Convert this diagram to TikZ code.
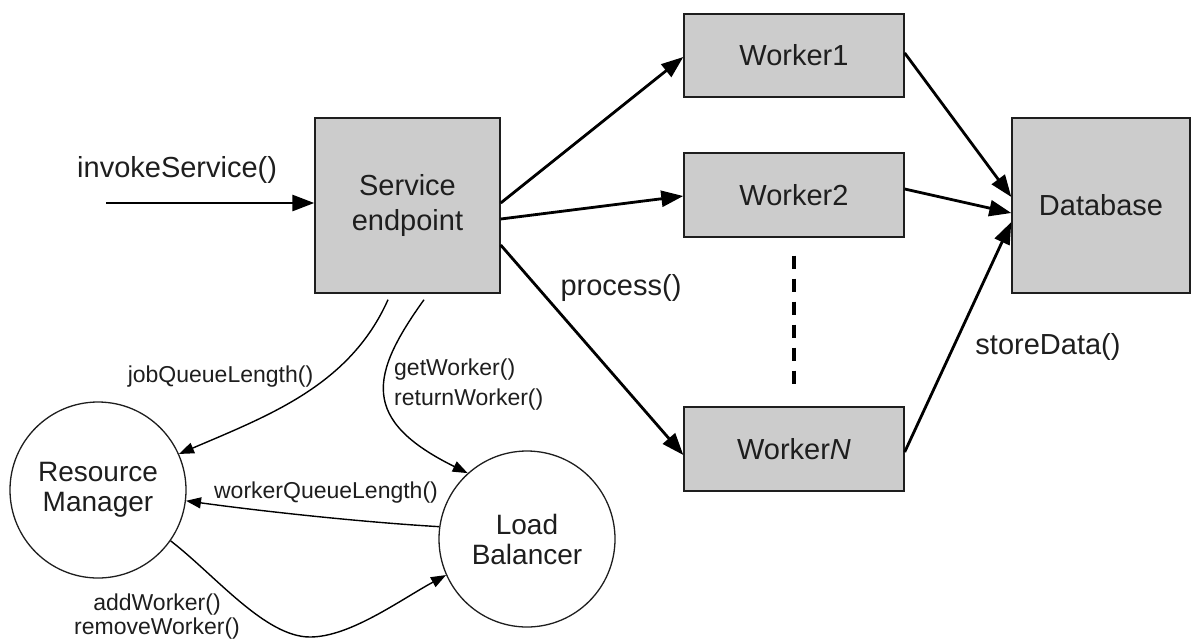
\documentclass[tikz,border=0pt]{standalone}
\usepackage{fontspec}
\setmainfont{Liberation Sans}
\usetikzlibrary{arrows.meta,calc}
\definecolor{boxfill}{HTML}{CCCCCC}
\definecolor{ink}{HTML}{1E1E1E}
\begin{document}
\begin{tikzpicture}[x=1pt,y=-1pt,
  box/.style={draw=ink, fill=boxfill, line width=1.4pt, inner sep=0pt,
    font=\fontsize{29}{35}\selectfont, align=center, text=ink},
  round/.style={draw=ink, circle, line width=1.3pt, minimum size=176pt, inner sep=0pt,
    font=\fontsize{28}{30}\selectfont, align=center, text=ink},
  biglabel/.style={inner sep=0pt, text=ink, font=\fontsize{29}{34}\selectfont},
  smalllabel/.style={inner sep=0pt, text=ink, font=\fontsize{23}{30}\selectfont},
  heavyarrow/.style={draw=black, line width=2.8pt, -{Triangle[length=22pt,width=16pt]}},
  lightarrow/.style={draw=black, line width=1.4pt, -{Triangle[length=15pt,width=11pt]}},
  ellipsis/.style={draw=black, line width=3.2pt, dash pattern=on 13pt off 10pt}
]
\useasboundingbox (0,0) rectangle (1191,641);

% boxes
\node[box, minimum width=185pt, minimum height=175pt] (se) at (407.5,205.5) {Service\\endpoint};
\node[box, minimum width=220pt, minimum height=83pt] (w1) at (794,55.5) {Worker1};
\node[box, minimum width=220pt, minimum height=84pt] (w2) at (794,195) {Worker2};
\node[box, minimum width=220pt, minimum height=84pt] (wn) at (794,449) {Worker\textit{N}};
\node[box, minimum width=178pt, minimum height=175pt] (db) at (1101,205.5) {Database};

% circles
\node[round] (rm) at (98,490) {Resource\\Manager};
\node[round] (lb) at (527,539) {Load\\Balancer};

% entry call
\coordinate (caller) at (106,203);
\draw[heavyarrow] (caller) -- ($(se.west)+(0,-2.5)$);
\node[biglabel, anchor=west] (invl) at (77,170) {invokeService()};

% endpoint to workers
\draw[heavyarrow] ($(se.east)+(0,-2.5)$) -- ($(w1.west)+(0,1.5)$);
\draw[heavyarrow] ($(se.east)+(0,13.5)$) -- ($(w2.west)+(0,1)$);
\draw[heavyarrow] ($(se.east)+(0,39.5)$) -- ($(wn.west)+(0,6)$);
\node[biglabel] (procl) at (621,288) {process()};

% workers to database
\draw[heavyarrow] ($(w1.east)+(0,-2.5)$) -- ($(db.west)+(0,-8.5)$);
\draw[heavyarrow] ($(w2.east)+(0,-6)$) -- ($(db.west)+(0,7.5)$);
\draw[heavyarrow] ($(wn.east)+(0,3)$) -- ($(db.west)+(0,16.5)$);
\node[biglabel] (storel) at (1048,347) {storeData()};

% more workers in between
\draw[ellipsis] ($(w2.south)+(0,18)$) -- ($(wn.north)+(0,-20)$);

% control calls
\draw[lightarrow] ($(se.south)+(-19.5,6)$) .. controls (350,385) and (270,415) .. (rm.24);
\node[smalllabel] (jql) at (220.5,377) {jobQueueLength()};

\draw[lightarrow] ($(se.south)+(16.5,6)$) .. controls (370,375) and (360,420) .. (lb.132);
\node[smalllabel, align=left, anchor=west] (gwl) at (394,385) {getWorker()\\returnWorker()};

\draw[lightarrow] (lb.172) .. controls (360,522) and (260,511) .. (rm.-7);
\node[smalllabel] (wql) at (326,493) {workerQueueLength()};

\draw[lightarrow] (rm.-35) .. controls (215,575) and (265,637) .. (310,637)
  .. controls (350,637) and (400,600) .. (lb.204);
\node[smalllabel, align=center, font=\fontsize{23}{24}\selectfont] (awl) at (157,616.5) {addWorker()\\removeWorker()};
\end{tikzpicture}
\end{document}
